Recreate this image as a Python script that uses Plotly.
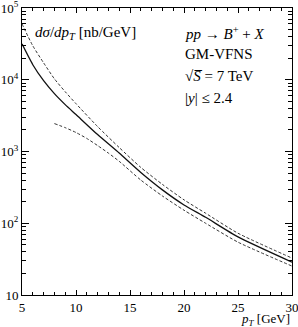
import plotly.graph_objects as go

pt_central = [5, 6, 7, 8, 9, 10, 12, 14, 16, 18, 20, 22, 25, 30]
xs_central = [31600, 16200, 9700, 6400, 4500, 3270, 1720, 950, 510, 292, 180, 121, 64.5, 28.7]

pt_upper = [5, 6, 7, 8, 9, 10, 12, 14, 16, 18, 20, 22, 25, 30]
xs_upper = [60000, 29700, 17200, 10300, 6810, 4640, 2225, 1136, 600, 348, 212, 138, 72.6, 32.7]

pt_lower = [8, 9, 10, 11, 12, 13, 14, 16, 18, 20, 22, 25, 30]
xs_lower = [2450, 2150, 1840, 1520, 1210, 950, 730, 400, 240, 152, 100, 54.5, 25.3]

y_major = [10, 100, 1000, 10000, 100000]
y_major_text = ["10", "10<sup>2</sup>", "10<sup>3</sup>", "10<sup>4</sup>", "10<sup>5</sup>"]
y_minor = [m * d for d in [10, 100, 1000, 10000] for m in range(2, 10)]
x_major = [5, 10, 15, 20, 25, 30]
x_minor = list(range(5, 31))

FONT = "Liberation Serif"

fig = go.Figure()
fig.add_trace(go.Scatter(x=pt_upper, y=xs_upper, mode="lines", line=dict(color="#333", width=1, dash="3px,2px", shape="spline", smoothing=0.6)))
fig.add_trace(go.Scatter(x=pt_central, y=xs_central, mode="lines", line=dict(color="#111", width=1.3, shape="spline", smoothing=0.6)))
fig.add_trace(go.Scatter(x=pt_lower, y=xs_lower, mode="lines", line=dict(color="#333", width=1, dash="3px,2px", shape="spline", smoothing=0.6)))

fig.update_layout(
    width=298, height=327,
    margin=dict(l=22, r=6, t=8, b=32, autoexpand=False),
    paper_bgcolor="white", plot_bgcolor="white",
    showlegend=False,
    font=dict(family=FONT, size=13, color="black"),
)
fig.update_xaxes(
    range=[5, 30], tickvals=x_major, ticktext=[str(v) for v in x_major],
    ticks="inside", ticklen=5, tickwidth=1, tickcolor="black",
    showline=True, linecolor="black", linewidth=1, mirror="allticks",
    showgrid=False, zeroline=False, tickfont=dict(size=13), automargin=False,
    ticklabeloverflow="allow",
    minor=dict(tickvals=x_minor, ticks="inside", ticklen=3, tickcolor="black", showgrid=False),
)
fig.update_yaxes(
    type="log", range=[1, 5], tickvals=y_major, ticktext=y_major_text,
    ticks="inside", ticklen=7, tickwidth=1, tickcolor="black",
    showline=True, linecolor="black", linewidth=1, mirror="allticks",
    showgrid=False, zeroline=False, tickfont=dict(size=13), automargin=False,
    ticklabeloverflow="allow",
    minor=dict(tickvals=y_minor, ticks="inside", ticklen=4, tickcolor="black", showgrid=False),
)

fig.add_annotation(x=0.04, y=0.913, xref="paper", yref="paper", xanchor="left", yanchor="middle",
                   text="<i>dσ</i>/<i>dp<sub>T</sub></i> [nb/GeV]", showarrow=False, font=dict(size=15))
lines = ["<i>pp</i> → <i>B</i><sup>+</sup> + <i>X</i>", "GM-VFNS", "√<i>S\u0305</i> = 7 TeV", "|<i>y</i>| ≤ 2.4"]
ys = [0.913, 0.838, 0.762, 0.685]
for t, yy in zip(lines, ys):
    fig.add_annotation(x=0.596, y=yy, xref="paper", yref="paper", xanchor="left", yanchor="middle",
                       text=t, showarrow=False, font=dict(size=15))
fig.add_annotation(x=1.0, y=-0.086, xref="paper", yref="paper", xanchor="right", yanchor="middle",
                   text="<i>p<sub>T</sub></i> [GeV]", showarrow=False, font=dict(size=13))

fig.write_html("out.html", config={"displayModeBar": False})
with open("out.html", "r", encoding="utf-8") as f:
    html = f.read()
html = html.replace("<body>", "<body style=\"margin:0;overflow:hidden\">", 1)
with open("out.html", "w", encoding="utf-8") as f:
    f.write(html)
